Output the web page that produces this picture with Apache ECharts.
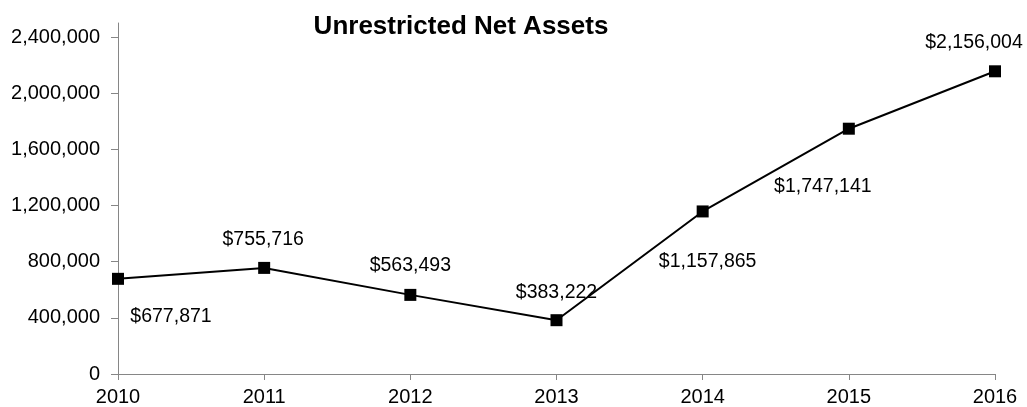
<!DOCTYPE html>
<html>
<head>
<meta charset="utf-8">
<script src="https://cdn.jsdelivr.net/npm/echarts@6/dist/echarts.min.js"></script>
<style>
  html, body { margin: 0; padding: 0; background: #fff; }
  #chart { width: 1027px; height: 407px; }
</style>
</head>
<body>
<div id="chart"></div>
<script>
// Unrestricted net assets by fiscal year
const years = ['2010', '2011', '2012', '2013', '2014', '2015', '2016'];
const netAssets = [677871, 755716, 563493, 383222, 1157865, 1747141, 2156004];
const yTicks = [0, 400000, 800000, 1200000, 1600000, 2000000, 2400000];

// Where each value label sits relative to its marker (px)
const labelOffsets = [[53, 38], [-1, -28], [0, -29], [0, -28], [5, 50], [-26, 58], [-21, -29]];

const fmtMoney = v => '$' + v.toLocaleString('en-US');
const fmtTick = v => v.toLocaleString('en-US');
const FONT = 'Liberation Sans, Arial, sans-serif';

const chart = echarts.init(document.getElementById('chart'));
chart.setOption({
  animation: false,
  backgroundColor: '#fff',
  textStyle: { fontFamily: FONT },
  title: {
    text: 'Unrestricted Net Assets',
    left: 456, top: 9, textAlign: 'center',
    textStyle: { fontSize: 26, lineHeight: 26, fontWeight: 'bold', color: '#000', fontFamily: FONT }
  },
  grid: { left: 118, right: 32, top: 23, bottom: 33, containLabel: false },
  xAxis: {
    type: 'category',
    data: years,
    boundaryGap: false,
    axisLine: { lineStyle: { color: '#868686', width: 1 } },
    axisTick: { alignWithLabel: true, length: 6, lineStyle: { color: '#868686' } },
    axisLabel: { color: '#000', fontSize: 20, margin: 13 },
    splitLine: { show: false }
  },
  yAxis: {
    type: 'value',
    min: 0, max: 2500000, interval: 400000,
    axisLine: { show: true, lineStyle: { color: '#868686', width: 1 } },
    axisTick: { show: true, length: 7, lineStyle: { color: '#868686' }, customValues: yTicks },
    axisLabel: { color: '#000', fontSize: 20, margin: 18, formatter: fmtTick, customValues: yTicks },
    splitLine: { show: false }
  },
  series: [{
    type: 'line',
    data: netAssets.map((v, i) => ({
      value: v,
      label: { offset: labelOffsets[i] }
    })),
    symbol: 'rect',
    symbolSize: 12,
    itemStyle: { color: '#000' },
    lineStyle: { color: '#000', width: 2 },
    label: {
      show: true,
      position: 'inside',
      color: '#000',
      fontSize: 19.5,
      formatter: p => fmtMoney(p.value)
    }
  }]
});
</script>
</body>
</html>
